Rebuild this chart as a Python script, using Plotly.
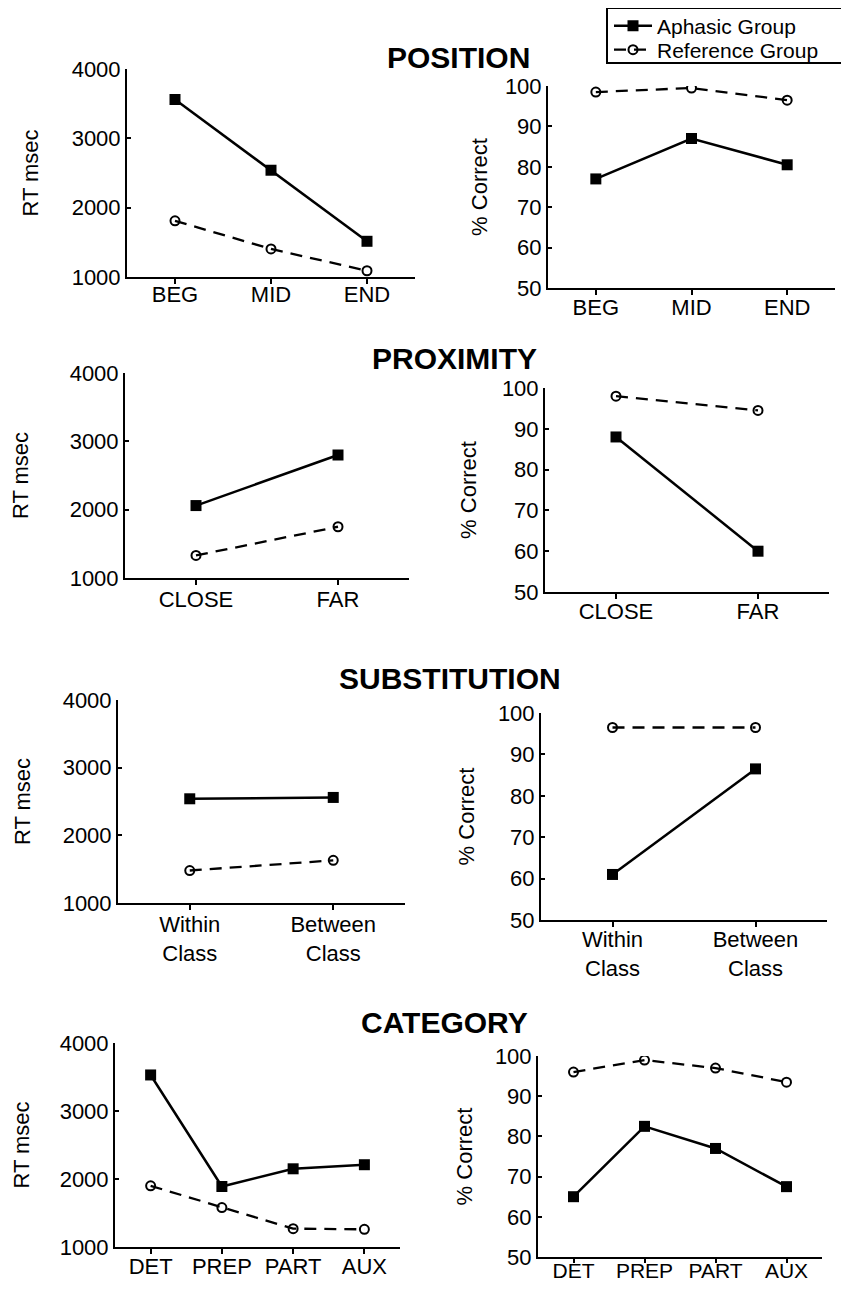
import plotly.graph_objects as go

# page is 849x1293; body margin of 8px -> figure 833x1277
PW, PH = 849, 1293
OFF = 8
W, H = PW - 2 * OFF, PH - 2 * OFF

# ---- data ----
pos_cats = ["BEG", "MID", "END"]
pos_rt_aph = [3560, 2540, 1515]
pos_rt_ref = [1810, 1405, 1090]
pos_pc_aph = [77, 87, 80.5]
pos_pc_ref = [98.5, 99.5, 96.5]

prox_cats = ["CLOSE", "FAR"]
prox_rt_aph = [2060, 2800]
prox_rt_ref = [1330, 1750]
prox_pc_aph = [88, 60]
prox_pc_ref = [98, 94.5]

sub_cats = ["Within<br>Class", "Between<br>Class"]
sub_rt_aph = [2540, 2560]
sub_rt_ref = [1480, 1630]
sub_pc_aph = [61, 86.5]
sub_pc_ref = [96.5, 96.5]

cat_cats = ["DET", "PREP", "PART", "AUX"]
cat_rt_aph = [3530, 1890, 2150, 2210]
cat_rt_ref = [1900, 1580, 1270, 1260]
cat_pc_aph = [65, 82.5, 77, 67.5]
cat_pc_ref = [96, 99, 97, 93.5]

section_titles = ["POSITION", "PROXIMITY", "SUBSTITUTION", "CATEGORY"]

rt_ticks = [1000, 2000, 3000, 4000]
pc_ticks = [50, 60, 70, 80, 90, 100]


def px(x):
    return (x - OFF) / W


def py(y):
    return 1 - (y - OFF) / H


# cats, aphasic, reference, kind, pixel box (x0, x1, ytop, ybottom),
# title standoff, label standoff, x label font size, x tick length
panels = [
    (pos_cats, pos_rt_aph, pos_rt_ref, "rt", (127, 415, 69, 277), 27, -8, 22, 5),
    (pos_cats, pos_pc_aph, pos_pc_ref, "pc", (548, 835, 86, 288), 11, -6, 22, 5),
    (prox_cats, prox_rt_aph, prox_rt_ref, "rt", (125, 409, 373, 578), 40, -4, 22, 5),
    (prox_cats, prox_pc_aph, prox_pc_ref, "pc", (545, 829, 388, 592), 19, -6, 22, 5),
    (sub_cats, sub_rt_aph, sub_rt_ref, "rt", (118, 405, 700, 903), 26, -4, 22, 5),
    (sub_cats, sub_pc_aph, sub_pc_ref, "pc", (541, 827, 713, 920), 17, -6, 22, 5),
    (cat_cats, cat_rt_aph, cat_rt_ref, "rt", (115, 400, 1043, 1247), 24, -6, 22, 5),
    (cat_cats, cat_pc_aph, cat_pc_ref, "pc", (538, 822, 1056, 1257), 16, -10, 21, 4),
]

title_pos = [(459, 57), (455, 358), (450, 678), (444, 1023)]

FONT = "Liberation Sans, Arial, sans-serif"
FS = 22
LFS = 21

fig = go.Figure()
layout = dict(
    width=W, height=H, margin=dict(l=0, r=0, t=0, b=0, autoexpand=False),
    paper_bgcolor="white", plot_bgcolor="white",
    font=dict(family=FONT, size=FS, color="black"),
    showlegend=True,
    legend=dict(x=px(609), y=py(26), xanchor="left", yanchor="middle",
                borderwidth=0, bgcolor="rgba(0,0,0,0)",
                font=dict(size=LFS, family=FONT, color="black"),
                itemwidth=38),
    legend2=dict(x=px(609), y=py(50), xanchor="left", yanchor="middle",
                 borderwidth=0, bgcolor="rgba(0,0,0,0)",
                 font=dict(size=LFS, family=FONT, color="black"),
                 itemwidth=38),
    shapes=[dict(type="rect", xref="paper", yref="paper",
                 x0=px(607), x1=px(847), y0=py(63), y1=py(8),
                 line=dict(color="black", width=2), layer="above")],
)

for i, (cats, aph, ref, kind, box, tstand, lstand, xfs, tlen) in enumerate(panels):
    n = i + 1
    xa = "x" if n == 1 else f"x{n}"
    ya = "y" if n == 1 else f"y{n}"
    x0, x1, yt, yb = box
    fig.add_trace(go.Scatter(
        x=cats, y=aph, xaxis=xa, yaxis=ya, mode="lines+markers",
        name="Aphasic Group", legend="legend", showlegend=(n == 1),
        line=dict(color="black", width=2.5),
        marker=dict(symbol="square", size=11, color="black"),
    ))
    fig.add_trace(go.Scatter(
        x=cats, y=ref, xaxis=xa, yaxis=ya, mode="lines+markers",
        name="Reference Group", legend="legend2", showlegend=(n == 1),
        line=dict(color="black", width=2.3, dash="12px,8px"),
        marker=dict(symbol="circle-open", size=9, color="black",
                    line=dict(width=2, color="black")),
    ))
    xkey = "xaxis" if n == 1 else f"xaxis{n}"
    ykey = "yaxis" if n == 1 else f"yaxis{n}"
    layout[xkey] = dict(
        domain=[px(x0), px(x1)], anchor=ya, type="category",
        range=[-0.5, len(cats) - 0.5],
        showline=True, linecolor="black", linewidth=2,
        ticks="outside", ticklen=tlen, tickwidth=2, tickcolor="black",
        showgrid=False, zeroline=False, automargin=False,
        ticklabelstandoff=lstand,
        tickfont=dict(size=xfs, family=FONT, color="black"),
    )
    if kind == "rt":
        yr, tv, ttl = [1000, 4000], rt_ticks, "RT msec"
    else:
        yr, tv, ttl = [50, 100], pc_ticks, "% Correct"
    layout[ykey] = dict(
        domain=[py(yb), py(yt)], anchor=xa, range=yr,
        tickvals=tv, showline=True, linecolor="black", linewidth=2,
        ticks="inside", ticklen=4, tickwidth=2, tickcolor="black",
        showgrid=False, zeroline=False, automargin=False,
        tickfont=dict(size=FS, family=FONT, color="black"),
        title=dict(text=ttl, font=dict(size=FS, family=FONT, color="black"),
                   standoff=tstand),
    )

annotations = []
for t, (cx, cy) in zip(section_titles, title_pos):
    annotations.append(dict(
        text=f"<b>{t}</b>", x=px(cx), y=py(cy), xref="paper", yref="paper",
        xanchor="center", yanchor="middle", showarrow=False,
        font=dict(size=30, family=FONT, color="black"),
    ))
layout["annotations"] = annotations

fig.update_layout(**layout)
fig.write_html("out.html")
